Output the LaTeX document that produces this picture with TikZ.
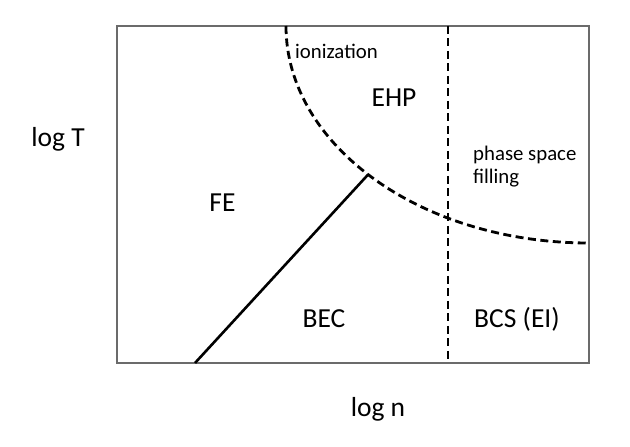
\documentclass[tikz,border=0pt]{standalone}
\usepackage{fontspec}
\setmainfont{Carlito}
\usetikzlibrary{calc}
\begin{document}
\begin{tikzpicture}[x=1pt,y=1pt,
  frame/.style={draw=black!58,line width=1.8pt},
  boundary/.style={draw=black,line width=2.8pt,dash pattern=on 8pt off 4.5pt},
  phase/.style={draw=black,line width=2.6pt},
  big/.style={font=\fontsize{27.5}{32}\selectfont,inner sep=0pt,anchor=base},
  small/.style={font=\fontsize{20.8}{24}\selectfont,inner sep=0pt,anchor=base west}]
\useasboundingbox (0,0) rectangle (630,447);
\fill[white] (0,0) rectangle (630,447);
% frame: px (117,26)-(589,363)
\draw[frame] (117,84) rectangle (589,421);
% ionization / phase space filling boundary (ellipse quadrant)
\coordinate (ctr) at (589,421);
\coordinate (arcstart) at (286,421);
\draw[boundary] (arcstart) arc[start angle=180,end angle=270,x radius=303,y radius=217];
\coordinate (triple) at ($(ctr)+(223.2:303 and 217)$);
% vertical BEC-BCS crossover
\coordinate (vtop) at (448,421);
\coordinate (vbot) at (448,84);
\draw[boundary] (vtop) -- (vbot);
% FE-BEC transition line
\coordinate (lbot) at (195,84);
\draw[phase] (lbot) -- (triple);
% labels
\node[big] (logT) at (58,300) {log T};
\node[big] (logn) at (378,30.5) {log n};
\node[big] (FE) at (222.5,235) {FE};
\node[big] (EHP) at (394,340) {EHP};
\node[big] (BEC) at (324,119.5) {BEC};
\node[big] (BCS) at (517,119.5) {BCS (EI)};
\node[small] (ion) at (295,388.7) {ionization};
\node[small] (psf1) at (473,286.3) {phase space};
\node[small] (psf2) at (473,263) {filling};
\end{tikzpicture}
\end{document}
